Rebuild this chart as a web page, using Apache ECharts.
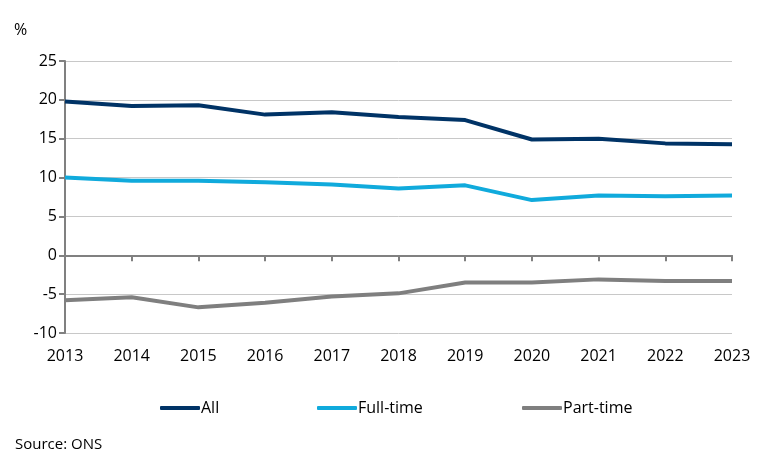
<!DOCTYPE html>
<html>
<head>
<meta charset="utf-8">
<script src="https://cdn.jsdelivr.net/npm/echarts@6/dist/echarts.min.js"></script>
<style>html,body{margin:0;padding:0;background:#fff;}#c{width:765px;height:465px;}</style>
</head>
<body>
<div id="c"></div>
<script>
const years = ['2013','2014','2015','2016','2017','2018','2019','2020','2021','2022','2023'];
const allValues = [19.8, 19.2, 19.3, 18.1, 18.4, 17.8, 17.4, 14.9, 15.0, 14.4, 14.3];
const fullTime = [10.0, 9.6, 9.6, 9.4, 9.1, 8.6, 9.0, 7.1, 7.7, 7.6, 7.7];
const partTime = [-5.8, -5.4, -6.7, -6.1, -5.3, -4.9, -3.5, -3.5, -3.1, -3.3, -3.3];
const yTicks = [-10, -5, 0, 5, 10, 15, 20, 25];

const font = '"Open Sans", "Noto Sans", sans-serif';
const chart = echarts.init(document.getElementById('c'));
const legendBase = {
  top: 395, itemWidth: 40, itemHeight: 4,
  icon: 'roundRect',
  textStyle: {fontFamily: font, fontSize: 16, color: '#000', padding: [0,0,0,-4]}
};
chart.setOption({
  animation: false,
  grid: {left: 65, right: 33, top: 61, bottom: 132},
  graphic: [
    {type: 'text', left: 14, top: 22, style: {text: '%', font: '16px ' + font, fill: '#000'}},
    {type: 'text', left: 15, top: 437, style: {text: 'Source: ONS', font: '15px ' + font, fill: '#000'}}
  ],
  legend: [
    Object.assign({left: 155, data: ['All']}, legendBase),
    Object.assign({left: 312, data: ['Full-time']}, legendBase),
    Object.assign({left: 517, data: ['Part-time']}, legendBase)
  ],
  xAxis: [
    {type: 'category', data: years, boundaryGap: false,
     axisLine: {onZero: true, lineStyle: {color: '#808080', width: 2}},
     axisTick: {show: true, length: 6, lineStyle: {color: '#808080', width: 2}},
     axisLabel: {show: false}, splitLine: {show: false}},
    {type: 'category', data: years, boundaryGap: false, position: 'bottom',
     axisLine: {show: false, onZero: false}, axisTick: {show: false},
     axisLabel: {fontFamily: font, fontSize: 16, color: '#000', margin: 15}}
  ],
  yAxis: {
    type: 'value', min: -10, max: 25, interval: 5,
    axisLine: {show: true, lineStyle: {color: '#808080', width: 2}},
    axisTick: {show: true, length: 6, lineStyle: {color: '#808080', width: 2}},
    axisLabel: {fontFamily: font, fontSize: 16, color: '#000', margin: 8,
      formatter: v => yTicks.includes(v) ? String(v) : ''},
    splitLine: {lineStyle: {color: '#c8c8c8', width: 1}}
  },
  series: [
    {name: 'All', type: 'line', data: allValues, symbol: 'none', xAxisIndex: 0,
     lineStyle: {color: '#003366', width: 4}, itemStyle: {color: '#003366'}},
    {name: 'Full-time', type: 'line', data: fullTime, symbol: 'none', xAxisIndex: 0,
     lineStyle: {color: '#10aadc', width: 4}, itemStyle: {color: '#10aadc'}},
    {name: 'Part-time', type: 'line', data: partTime, symbol: 'none', xAxisIndex: 0,
     lineStyle: {color: '#7f7f7f', width: 4}, itemStyle: {color: '#7f7f7f'}}
  ]
});
</script>
</body>
</html>
